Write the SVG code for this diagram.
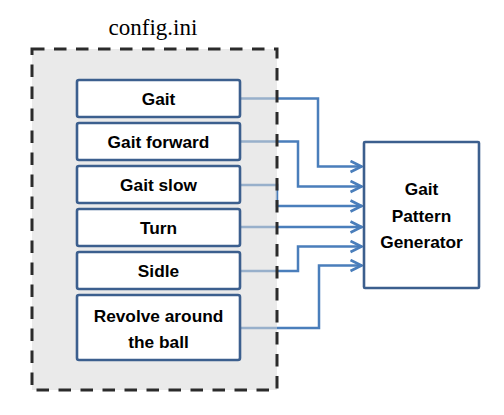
<svg xmlns="http://www.w3.org/2000/svg" width="504" height="415" viewBox="0 0 504 415">
<defs>
<style>
.conn{fill:none;stroke:#4a7ebb;stroke-width:2.5}
.box{fill:#fff;stroke:#3c5f8e;stroke-width:2.6}
.lbl{font-family:"Liberation Sans",Arial,sans-serif;font-weight:bold;font-size:17.3px;fill:#000;text-anchor:middle}
.title{font-family:"Liberation Serif","Times New Roman",serif;font-size:23px;fill:#000;text-anchor:middle}
</style>
<marker id="arr" viewBox="0 0 14 14" refX="13" refY="7" markerWidth="14" markerHeight="14" markerUnits="userSpaceOnUse" orient="auto">
<path d="M1.5,1.5 L12.5,7 L1.5,12.5" fill="none" stroke="#4a7ebb" stroke-width="2.6"/>
</marker>
</defs>
<rect width="504" height="415" fill="#fff"/>
<g id="connectors">
<path class="conn" marker-end="url(#arr)" d="M240,98.5 H318 V166.5 H362"/>
<path class="conn" marker-end="url(#arr)" d="M240,141.5 H298 V186.5 H362"/>
<path class="conn" marker-end="url(#arr)" d="M240,185 H277 V206 H362"/>
<path class="conn" marker-end="url(#arr)" d="M240,227 H362"/>
<path class="conn" marker-end="url(#arr)" d="M240,271 H298 V246.5 H362"/>
<path class="conn" marker-end="url(#arr)" d="M240,328 H319 V265.5 H362"/>
</g>
<g id="config">
<rect x="32" y="49" width="245" height="341" fill="#d9d9d9" fill-opacity="0.55" stroke="#2b2b2b" stroke-width="3" stroke-dasharray="12.5 9.5"/>
<text class="title" x="153" y="35">config.ini</text>
</g>
<g id="gait"><rect class="box" x="77" y="80" width="163" height="37" rx="2"/><text class="lbl" x="158.5" y="104.5">Gait</text></g>
<g id="gait-forward"><rect class="box" x="77" y="123" width="163" height="37" rx="2"/><text class="lbl" x="158.5" y="147.5">Gait forward</text></g>
<g id="gait-slow"><rect class="box" x="77" y="166" width="163" height="37" rx="2"/><text class="lbl" x="158.5" y="190.5">Gait slow</text></g>
<g id="turn"><rect class="box" x="77" y="209" width="163" height="37" rx="2"/><text class="lbl" x="158.5" y="233.5">Turn</text></g>
<g id="sidle"><rect class="box" x="77" y="252" width="163" height="37" rx="2"/><text class="lbl" x="158.5" y="276.5">Sidle</text></g>
<g id="revolve"><rect class="box" x="77" y="295" width="163" height="65" rx="2"/><text class="lbl" x="158.5" y="321.5">Revolve around</text><text class="lbl" x="158.5" y="348">the ball</text></g>
<g id="gpg"><rect class="box" x="364" y="142" width="115" height="146" rx="1"/><text class="lbl" x="421.5" y="195">Gait</text><text class="lbl" x="421.5" y="222">Pattern</text><text class="lbl" x="421.5" y="248">Generator</text></g>
</svg>
